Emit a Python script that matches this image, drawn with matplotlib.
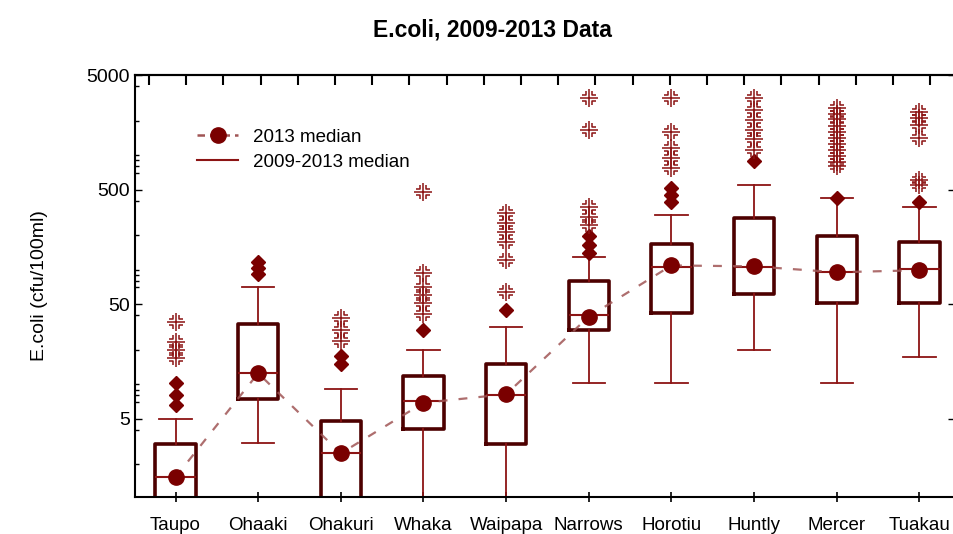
import numpy as np
import matplotlib
matplotlib.use('Agg')
import matplotlib.pyplot as plt
from matplotlib.path import Path
from matplotlib.lines import Line2D

plt.rcParams['font.family'] = ['Liberation Sans', 'DejaVu Sans']

sites = ['Taupo', 'Ohaaki', 'Ohakuri', 'Whaka', 'Waipapa',
         'Narrows', 'Horotiu', 'Huntly', 'Mercer', 'Tuakau']
median_0913 = [1.54, 12.5, 2.5, 7.2, 8.0, 40, 105, 106, 95, 101]
median_2013 = [1.55, 12.5, 2.5, 6.9, 8.2, 39, 109, 107, 95, 99]
q1 = [0.8, 7.4, 1.0, 4.1, 3.0, 30, 42, 61, 51, 51]
q3 = [3.0, 33.6, 4.8, 11.9, 15.1, 79, 167, 281, 197, 176]
whis_lo = [0.6, 3.1, 0.7, 0.7, 0.7, 10.3, 10.3, 20, 10.3, 17.3]
whis_hi = [5.0, 70, 9.1, 20, 31.6, 128, 300, 548, 420, 356]
outliers = [[10.3, 8.1, 6.6], [116, 104, 92], [17.5, 15], [29.5], [44.7],
            [195, 165, 140], [512, 449, 390], [880], [420], [393]]
extremes = [[35, 23.6, 20, 17], [], [38, 30, 24],
            [478, 94, 71, 60, 51, 41], [310, 254, 214, 176, 122, 64],
            [3135, 1655, 356, 291, 246], [3135, 1600, 1150, 940, 770],
            [3135, 2480, 2030, 1660, 1370, 1100],
            [2600, 2300, 2050, 1800, 1600, 1400, 1250, 1100, 980, 870, 800],
            [2390, 2110, 1830, 1400, 606, 548]]

box_col = '#4d0000'
line_col = '#8c1414'
dot_col = '#7a0000'

# statistica-like asterisk marker
verts, codes = [], []
segs = [[(0, -1), (0, 1)], [(-1, 0), (1, 0)],
        [(-0.75, 0.35), (-0.35, 0.35), (-0.35, 0.75)],
        [(0.75, 0.35), (0.35, 0.35), (0.35, 0.75)],
        [(-0.75, -0.35), (-0.35, -0.35), (-0.35, -0.75)],
        [(0.75, -0.35), (0.35, -0.35), (0.35, -0.75)]]
for s in segs:
    verts += s
    codes += [Path.MOVETO] + [Path.LINETO] * (len(s) - 1)
star = Path(verts, codes)

fig = plt.figure(figsize=(9.54, 5.34), dpi=100)
ax = fig.add_axes([135 / 954, 37 / 534, 820 / 954, 422 / 534])

x = np.arange(len(sites))
stats = []
for i in range(len(sites)):
    stats.append(dict(med=median_0913[i], q1=q1[i], q3=q3[i],
                      whislo=whis_lo[i], whishi=whis_hi[i], fliers=[]))
ax.bxp(stats, positions=x, widths=0.49, showfliers=False,
       boxprops=dict(color=box_col, linewidth=2.6),
       whiskerprops=dict(color=line_col, linewidth=1.3),
       capprops=dict(color=line_col, linewidth=1.3),
       medianprops=dict(color=line_col, linewidth=1.5),
       capwidths=0.39)

for i in range(len(sites)):
    if outliers[i]:
        ax.plot([x[i]] * len(outliers[i]), outliers[i], 'D', color=dot_col,
                markersize=7, linestyle='none')
    if extremes[i]:
        ax.plot([x[i]] * len(extremes[i]), extremes[i], linestyle='none',
                marker=star, markersize=13, markeredgewidth=1.1,
                markerfacecolor='none', markeredgecolor=line_col)

ax.plot(x, median_2013, linestyle=(0, (4, 5)), color='#a05555', linewidth=1.6,
        alpha=0.85, zorder=4)
ax.plot(x, median_2013, 'o', color=dot_col, markersize=11, zorder=5)

ax.set_yscale('log')
ax.set_ylim(1.04, 5000)
ax.set_xlim(-0.49, 9.43)
ax.set_yticks([5, 50, 500, 5000])
ax.set_yticklabels(['5', '50', '500', '5000'])
minor = [m * 10.0 ** k for k in range(0, 4) for m in (1, 2, 4, 7, 8, 9)]
ax.set_yticks([v for v in minor if 1.04 < v < 5000], minor=True)
ax.yaxis.set_minor_formatter(plt.NullFormatter())
ax.set_xticks(x)
ax.set_xticklabels(sites)
ax.tick_params(axis='y', which='major', direction='in', right=True,
               labelsize=14, length=5, width=1)
ax.tick_params(axis='y', which='minor', direction='in', right=False,
               length=3, width=1)
ax.tick_params(axis='x', direction='inout', length=7, width=1.2,
               labelsize=13.5, pad=11)

top = ax.secondary_xaxis('top')
top.set_xticks(np.arange(-0.32, 9.43, 0.45))
top.tick_params(direction='in', length=7, width=1.5, labeltop=False)
top.spines['top'].set_linewidth(1.5)

for sp in ax.spines.values():
    sp.set_linewidth(1.5)

ax.set_ylabel('E.coli (cfu/100ml)', fontsize=14, labelpad=28)
fig.text(492 / 954, 1 - 30 / 534, 'E.coli, 2009-2013 Data', ha='center',
         va='center', fontsize=16.5, fontweight='bold')

handles = [Line2D([], [], color='#a05555', linestyle=(0, (3, 2)), linewidth=1.8,
                  marker='o', markersize=11, markerfacecolor=dot_col,
                  markeredgecolor=dot_col),
           Line2D([], [], color=line_col, linewidth=1.5)]
ax.legend(handles, ['2013 median', '2009-2013 median'], loc='upper left',
          bbox_to_anchor=(180 / 954, 1 - 112 / 534), bbox_transform=fig.transFigure,
          frameon=False, fontsize=13.5, handlelength=2.2, labelspacing=0.4,
          handletextpad=0.8)

fig.savefig('out.png', dpi=100)
